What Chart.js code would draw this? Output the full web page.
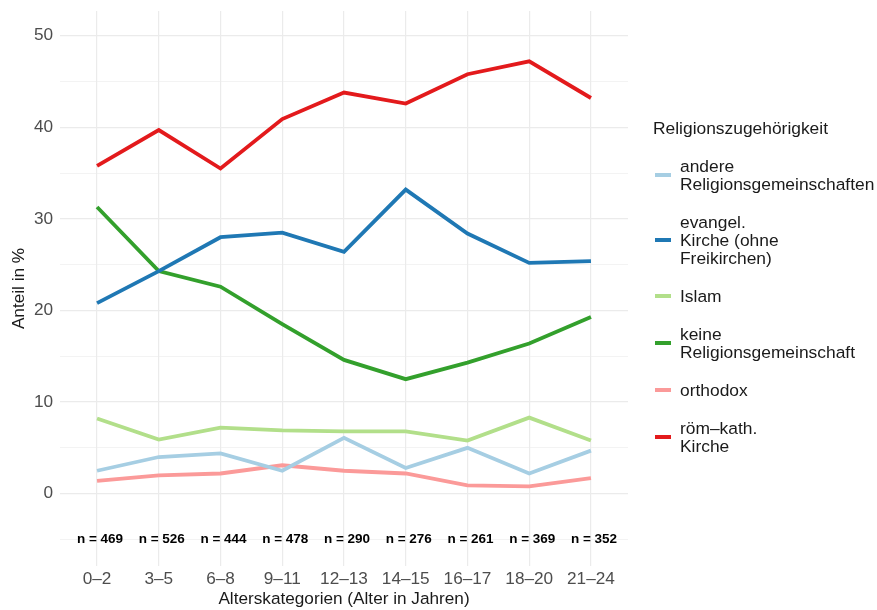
<!doctype html>
<html>
<head>
<meta charset="UTF-8">
<script src="https://cdn.jsdelivr.net/npm/chart.js"></script>
<style>
  body { margin: 0; background: #fff; font-family: "Liberation Sans", Arial, sans-serif; }
  #wrap { position: relative; width: 877px; height: 610px; }
  #chart { display: block; }
  #legend { position: absolute; left: 653px; top: 118px; color: #1a1a1a; font-size: 17.4px; }
  #legend .title { margin-bottom: 18px; }
  #legend .item { position: relative; padding-left: 27px; line-height: 18px; margin-bottom: 20px; }
  #legend .key { position: absolute; left: 2px; top: 50%; width: 16px; height: 4px; margin-top: -2px; }
</style>
</head>
<body>
<div id="wrap">
  <canvas id="chart" width="877" height="610"></canvas>
  <div id="legend"></div>
</div>

<script>
const ageGroups = ['0–2', '3–5', '6–8', '9–11', '12–13', '14–15', '16–17', '18–20', '21–24'];
const sampleSizes = [469, 526, 444, 478, 290, 276, 261, 369, 352];

// Anteil in % je Altersgruppe
const andere    = [2.5, 4.0, 4.4, 2.5, 6.1, 2.8, 5.0, 2.2, 4.7];
const evangel   = [20.8, 24.3, 28.0, 28.5, 26.4, 33.2, 28.4, 25.2, 25.4];
const islam     = [8.2, 5.9, 7.2, 6.9, 6.8, 6.8, 5.8, 8.3, 5.8];
const keine     = [31.3, 24.3, 22.6, 18.5, 14.6, 12.5, 14.3, 16.4, 19.3];
const orthodox  = [1.4, 2.0, 2.2, 3.1, 2.5, 2.2, 0.9, 0.8, 1.7];
const roemkath  = [35.8, 39.7, 35.5, 40.9, 43.8, 42.6, 45.8, 47.2, 43.2];

const seriesNames = [
    ['andere', 'Religionsgemeinschaften'],
    ['evangel.', 'Kirche (ohne', 'Freikirchen)'],
    ['Islam'],
    ['keine', 'Religionsgemeinschaft'],
    ['orthodox'],
    ['röm–kath.', 'Kirche']
];
const seriesValues = [andere, evangel, islam, keine, orthodox, roemkath];
const seriesColors = ['#A6CEE3', '#1F78B4', '#B2DF8A', '#33A02C', '#FB9A99', '#E31A1C'];

const FONT = '"Liberation Sans", Arial, sans-serif';
const FS = 17.2;

// legend (html, because of the wrapped labels)
const legend = document.getElementById('legend');
legend.innerHTML = '<div class="title">Religionszugehörigkeit</div>' +
    seriesNames.map((n, i) =>
        '<div class="item"><span class="key" style="background:' + seriesColors[i] + '"></span>' + n.join('<br>') + '</div>'
    ).join('');

// "n = ..." labels below the lines
const nLabels = {
    id: 'nLabels',
    afterDatasetsDraw(chart) {
        const { ctx, scales: { x, y } } = chart;
        ctx.save();
        ctx.font = 'bold 13.5px ' + FONT;
        ctx.fillStyle = '#000';
        ctx.textAlign = 'center';
        ctx.textBaseline = 'middle';
        sampleSizes.forEach((n, i) => {
            ctx.fillText('n = ' + n, x.getPixelForValue(i) + 3, y.getPixelForValue(-5));
        });
        ctx.restore();
    }
};

new Chart(document.getElementById('chart'), {
    type: 'line',
    data: {
        datasets: seriesValues.map((vals, i) => ({
            label: seriesNames[i].join(' '),
            data: vals.map((v, j) => ({ x: j, y: v })),
            borderColor: seriesColors[i],
            backgroundColor: seriesColors[i],
            borderWidth: 3.8,
            pointRadius: 0,
            tension: 0
        }))
    },
    options: {
        responsive: false,
        animation: false,
        layout: { padding: { top: 11, right: 249, left: 0, bottom: 0 } },
        plugins: { legend: { display: false }, tooltip: { enabled: false } },
        scales: {
            x: {
                type: 'linear',
                min: -0.6,
                max: 8.6,
                afterBuildTicks: s => { s.ticks = ageGroups.map((_, i) => ({ value: i })); },
                afterFit: s => { s.height = 44; s.paddingLeft = 0; s.paddingRight = 0; },
                ticks: {
                    callback: v => ageGroups[v],
                    color: '#4d4d4d',
                    font: { family: FONT, size: FS },
                    padding: 3,
                    maxRotation: 0,
                    autoSkip: false
                },
                grid: { color: '#ebebeb', lineWidth: 1.2, drawTicks: false },
                border: { display: false },
                title: {
                    display: true,
                    text: 'Alterskategorien (Alter in Jahren)',
                    color: '#1a1a1a',
                    font: { family: FONT, size: FS },
                    padding: { top: 0, bottom: 0 }
                }
            },
            y: {
                min: -7.9,
                max: 52.7,
                afterBuildTicks: s => { s.ticks = [-5, 0, 5, 10, 15, 20, 25, 30, 35, 40, 45, 50].map(v => ({ value: v })); },
                afterFit: s => { s.width = 60; s.paddingTop = 0; s.paddingBottom = 0; },
                ticks: {
                    callback: v => (v >= 0 && v % 10 === 0) ? String(v) : '',
                    color: '#4d4d4d',
                    font: { family: FONT, size: FS },
                    padding: 7
                },
                grid: {
                    color: '#ebebeb',
                    lineWidth: c => (c.tick && c.tick.value % 10 === 0) ? 1.2 : 0.6,
                    drawTicks: false
                },
                border: { display: false },
                title: {
                    display: true,
                    text: 'Anteil in %',
                    color: '#1a1a1a',
                    font: { family: FONT, size: FS },
                    padding: { top: 8.5, bottom: 0 }
                }
            }
        }
    },
    plugins: [nLabels]
});
</script>
</body>
</html>
